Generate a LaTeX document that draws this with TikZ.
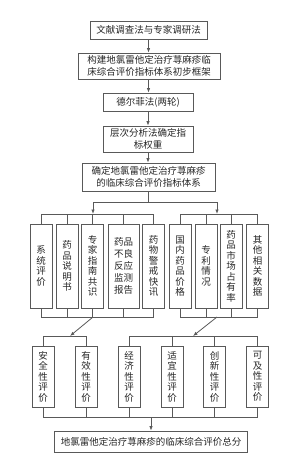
\documentclass[tikz,border=0pt]{standalone}
\usepackage{fontspec}
\setmainfont{Noto Sans CJK SC}
\usetikzlibrary{arrows.meta,calc}

\begin{document}
\begin{tikzpicture}[x=1pt,y=-1pt,
  box/.style={draw=black!65,line width=0.8pt,inner sep=0pt,align=center,text=black!85,
              font=\fontsize{9.5}{11.5}\selectfont},
  vbox/.style={box,minimum width=22pt,font=\fontsize{9.5}{10.5}\selectfont},
  ln/.style={draw=black!65,line width=0.8pt},
  arr/.style={ln,-{Latex[length=4.5pt,width=3.5pt]}}]
  %\draw[color=gray,step=10pt,help lines,opacity=0.3] (0,0) grid (296,458); %help grid
  \useasboundingbox (0,0) rectangle (296,458);
  % top column
  \node[box,minimum width=117pt,minimum height=18pt] (lit) at (148.5,30) {文献调查法与专家调研法};
  \node[box,minimum width=142pt,minimum height=26pt] (frame) at (149,66) {构建地氯雷他定治疗荨麻疹临\\床综合评价指标体系初步框架};
  \node[box,minimum width=90pt,minimum height=18pt] (delphi) at (148,102) {德尔菲法(两轮)};
  \node[box,minimum width=90pt,minimum height=26pt] (ahp) at (148,139) {层次分析法确定指\\标权重};
  \node[box,minimum width=133pt,minimum height=28pt] (system) at (148.5,177) {确定地氯雷他定治疗荨麻疹\\的临床综合评价指标体系};
  \draw[arr] (lit.south) -- (lit.south |- frame.north);
  \draw[arr] (frame.south -| lit.south) -- (lit.south |- delphi.north);
  \draw[arr] (delphi.south) -- (delphi.south |- ahp.north);
  \draw[arr] (ahp.south) -- (ahp.south |- system.north);
  % sources row
  \node[vbox,minimum height=84pt] (sys) at (41,266) {系\\统\\评\\价};
  \node[vbox,minimum height=84pt] (label) at (67,266) {药\\品\\说\\明\\书};
  \node[vbox,minimum height=84pt] (guide) at (92.5,266) {专\\家\\指\\南\\共\\识};
  \node[vbox,minimum height=84pt,minimum width=31pt,font=\fontsize{9.5}{12}\selectfont] (adr) at (123.5,266) {药品\\不良\\反应\\监测\\报告};
  \node[vbox,minimum height=84pt] (alert) at (153.5,266) {药\\物\\警\\戒\\快\\讯};
  \node[vbox,minimum height=84pt] (price) at (180,266) {国\\内\\药\\品\\价\\格};
  \node[vbox,minimum height=84pt] (patent) at (206,266) {专\\利\\情\\况};
  \node[vbox,minimum height=84pt] (market) at (231,266) {药\\品\\市\\场\\占\\有\\率};
  \node[vbox,minimum height=84pt] (other) at (257.5,266) {其\\他\\相\\关\\数\\据};
  \coordinate (fork) at (148.5,202);
  \coordinate (forkL) at (93,202);
  \coordinate (forkR) at (217,202);
  \coordinate (barL) at (93,214);
  \coordinate (barR) at (217,214);
  \draw[ln] (system.south) -- (fork);
  \draw[ln] (forkL) -- (forkR);
  \draw[arr] (forkL) -- (barL);
  \draw[arr] (forkR) -- (barR);
  \draw[ln] (sys.north |- barL) -- (alert.north |- barL);
  \draw[ln] (price.north |- barR) -- (other.north |- barR);
  \foreach \n in {sys,label,guide,adr,alert,price,patent,market,other}
    \draw[ln] (\n.north |- barL) -- (\n.north);
  \coordinate (lowL) at (93,317);
  \coordinate (lowR) at (217,317);
  \draw[ln] (sys.south |- lowL) -- (alert.south |- lowL);
  \draw[ln] (price.south |- lowR) -- (other.south |- lowR);
  \foreach \n in {sys,label,guide,adr,alert,price,patent,market,other}
    \draw[ln] (\n.south) -- (\n.south |- lowL);
  % criteria row
  \node[vbox,minimum height=61pt] (safe) at (43,376.5) {安\\全\\性\\评\\价};
  \node[vbox,minimum height=61pt] (eff) at (86,376.5) {有\\效\\性\\评\\价};
  \node[vbox,minimum height=61pt] (econ) at (129,376.5) {经\\济\\性\\评\\价};
  \node[vbox,minimum height=61pt] (suit) at (172,376.5) {适\\宜\\性\\评\\价};
  \node[vbox,minimum height=61pt] (innov) at (214.5,376.5) {创\\新\\性\\评\\价};
  \node[vbox,minimum height=61pt] (access) at (257.5,376.5) {可\\及\\性\\评\\价};
  \coordinate (catL) at (70,336);
  \coordinate (catR) at (193,336);
  \draw[arr] (lowL) -- (catL);
  \draw[arr] (lowR) -- (catR);
  \draw[ln] (safe.north |- catL) -- (eff.north |- catL);
  \draw[ln] (econ.north |- catR) -- (access.north |- catR);
  \foreach \n in {safe,eff,econ,suit,innov,access}
    \draw[ln] (\n.north |- catL) -- (\n.north);
  % total score
  \node[box,minimum width=193pt,minimum height=21pt] (total) at (151,441.5) {地氯雷他定治疗荨麻疹的临床综合评价总分};
  \coordinate (sumbar) at (151,417);
  \draw[ln] (safe.south |- sumbar) -- (access.south |- sumbar);
  \foreach \n in {safe,eff,econ,suit,innov,access}
    \draw[ln] (\n.south) -- (\n.south |- sumbar);
  \draw[arr] (sumbar) -- (total.north);
\end{tikzpicture}
\end{document}
